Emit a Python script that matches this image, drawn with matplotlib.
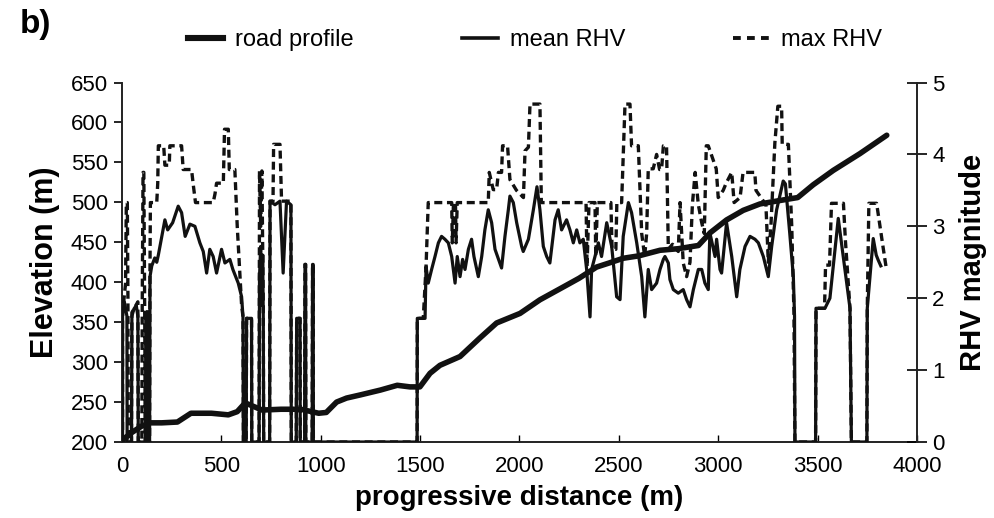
import matplotlib
matplotlib.use("Agg")
import matplotlib.pyplot as plt
from matplotlib.lines import Line2D

plt.rcParams['font.family'] = ['Liberation Sans Narrow', 'Liberation Sans', 'DejaVu Sans']

# road profile: progressive distance (m) -> elevation (m)
road_d = [0, 50, 100, 143, 200, 279, 347, 450, 535, 580, 620, 705, 800, 900, 990,
          1028, 1080, 1130, 1200, 1300, 1385, 1449, 1499, 1550, 1600, 1701, 1800,
          1885, 2003, 2103, 2220, 2300, 2388, 2450, 2522, 2600, 2707, 2800, 2900,
          2960, 3042, 3126, 3210, 3327, 3400, 3478, 3579, 3713, 3848]
road_e = [202, 212, 220, 224, 224, 225, 236, 236, 234, 238, 249, 240, 241, 241, 236,
          237, 250, 255, 259, 265, 271, 269, 269, 286, 296, 307, 330,
          349, 361, 378, 394, 405, 419, 424, 430, 433, 440, 442, 446,
          462, 478, 490, 498, 503, 506, 522, 540, 561, 584]

# mean RHV magnitude
mean_d = [0, 3, 3, 12, 22, 25, 26, 48, 50, 60, 72, 80, 82, 118, 120, 130, 132, 139,
          141, 150, 165, 175, 183, 200, 216, 230, 255, 283, 300, 318, 342, 367, 392,
          409, 426, 442, 459, 476, 501, 518, 543, 558, 585, 602, 609, 611, 625, 627,
          652, 653, 690, 692, 698, 704, 708, 711, 713, 743, 745, 770, 795, 811, 828,
          850, 852, 877, 879, 896, 897, 919, 921, 924, 925, 957, 959, 962, 963,
          1485, 1486, 1525, 1530, 1541, 1558, 1575, 1592, 1608, 1625, 1642, 1659,
          1676, 1687, 1701, 1714, 1726, 1743, 1759, 1771, 1793, 1810, 1826, 1843,
          1860, 1877, 1910, 1927, 1944, 1952, 1969, 1986, 2011, 2019, 2045, 2070,
          2088, 2103, 2120, 2137, 2153, 2179, 2195, 2212, 2237, 2254, 2271, 2288,
          2304, 2321, 2338, 2355, 2363, 2380, 2397, 2413, 2439, 2464, 2489, 2506,
          2522, 2548, 2564, 2590, 2615, 2631, 2648, 2665, 2690, 2707, 2724, 2732,
          2749, 2757, 2774, 2799, 2824, 2841, 2858, 2875, 2900, 2917, 2933, 2950,
          2958, 2984, 2992, 3009, 3017, 3034, 3042, 3068, 3093, 3109, 3135, 3160,
          3185, 3202, 3227, 3252, 3269, 3294, 3327, 3338, 3360, 3378, 3384, 3386,
          3490, 3492, 3537, 3562, 3604, 3663, 3670, 3748, 3750, 3780, 3795, 3805, 3818]
mean_r = [0, 0, 1.75, 1.95, 1.8, 1.75, 0, 0, 1.75, 1.85, 1.9, 1.75, 0, 0, 1.75, 1.8, 0, 0,
          2.3, 2.45, 2.56, 2.5, 2.6, 2.85, 3.09, 2.95, 3.05, 3.28, 3.19, 2.86, 3.03, 3.0, 2.77,
          2.65, 2.35, 2.68, 2.58, 2.35, 2.68, 2.49, 2.54, 2.40, 2.21, 2.02, 1.74, 0, 0, 1.72,
          1.72, 0, 0, 2.3, 2.72, 1.9, 2.6, 1.74, 0, 0, 3.35, 3.3, 3.35, 2.35, 3.35,
          3.3, 0, 0, 1.72, 1.72, 0, 0, 2.47, 2.47, 0, 0, 2.47, 2.47, 0,
          0, 1.72, 1.72, 2.44, 2.21, 2.40, 2.58, 2.77, 2.86, 2.82, 2.77, 2.58,
          2.21, 2.58, 2.30, 2.54, 2.40, 2.68, 2.82, 2.58, 2.30, 2.58, 2.95, 3.23,
          3.05, 2.68, 2.42, 2.86, 3.23, 3.42, 3.33, 3.05, 2.72, 2.65, 2.82, 3.23,
          3.55, 3.23, 2.72, 2.58, 2.49, 3.09, 3.23, 2.95, 3.09, 2.95, 2.77, 2.95,
          2.77, 2.82, 2.40, 1.74, 2.40, 2.58, 2.77, 2.58, 3.05, 2.72, 2.02, 1.98,
          2.86, 3.33, 3.19, 2.77, 2.30, 1.74, 2.40, 2.12, 2.21, 2.40, 2.54, 2.58,
          2.49, 2.26, 2.12, 2.07, 2.12, 1.98, 1.88, 2.12, 2.40, 2.40, 2.21, 2.12,
          2.91, 2.58, 2.82, 2.40, 2.35, 2.82, 3.05, 2.58, 2.02, 2.40, 2.72, 2.86,
          2.82, 2.77, 2.58, 2.30, 2.72, 3.23, 3.63, 3.59, 2.9, 2.30, 1.75, 0,
          0, 1.86, 1.86, 2.0, 3.11, 1.86, 0, 0, 1.86, 2.83, 2.6, 2.53, 2.45]

# max RHV magnitude
max_d = [0, 3, 3, 18, 22, 27, 30, 32, 48, 50, 80, 82, 100, 102, 106, 110, 114, 118,
         120, 130, 132, 139, 141, 143, 175, 180, 183, 210, 216, 238, 241, 300, 308,
         350, 360, 370, 459, 468, 476, 510, 516, 535, 540, 568, 580, 602, 609, 611,
         625, 627, 652, 653, 690, 692, 698, 704, 711, 713, 743, 745, 760, 763, 795,
         803, 850, 852, 877, 879, 896, 897, 919, 921, 924, 925, 957, 959, 962, 963,
         1485, 1486, 1516, 1530, 1541, 1659, 1662, 1668, 1678, 1681, 1687, 1843,
         1848, 1868, 1885, 1894, 1910, 1915, 1940, 1952, 1985, 2020, 2028, 2045,
         2053, 2103, 2110, 2335, 2340, 2350, 2380, 2384, 2392, 2460, 2466, 2485,
         2490, 2514, 2531, 2556, 2564, 2598, 2606, 2615, 2630, 2640, 2648, 2673,
         2690, 2705, 2715, 2724, 2740, 2749, 2770, 2799, 2808, 2824, 2841, 2858,
         2870, 2884, 2900, 2917, 2930, 2940, 2950, 2990, 3000, 3025, 3040, 3068,
         3080, 3110, 3125, 3184, 3190, 3240, 3252, 3265, 3285, 3300, 3319, 3322,
         3353, 3370, 3381, 3386, 3490, 3492, 3535, 3540, 3560, 3570, 3630, 3640,
         3663, 3670, 3748, 3750, 3758, 3797, 3814, 3830, 3847]
max_r = [0, 0, 1.8, 2.2, 3.33, 3.33, 2.0, 0, 0, 1.8, 1.95, 0, 0, 1.9, 3.75, 3.75, 2.0, 0,
         1.8, 1.85, 0, 0, 2.4, 3.33, 3.33, 3.6, 4.12, 4.12, 3.85, 3.85, 4.12, 4.12, 3.79,
         3.79, 3.55, 3.33, 3.33, 3.45, 3.6, 3.6, 4.35, 4.35, 3.79, 3.79, 3.0, 1.9, 1.74, 0,
         0, 1.72, 1.72, 0, 0, 3.77, 3.0, 3.77, 1.9, 0, 0, 3.35, 3.35, 4.14, 4.14,
         3.35, 3.35, 0, 0, 1.72, 1.72, 0, 0, 2.47, 2.47, 0, 0, 2.47, 2.47, 0,
         0, 1.72, 1.72, 2.44, 3.33, 3.33, 2.77, 3.33, 3.33, 2.77, 3.33, 3.33,
         3.75, 3.51, 3.51, 3.75, 3.75, 4.12, 4.12, 3.65, 3.5, 3.4, 4.05, 4.1,
         4.7, 4.7, 3.33, 3.33, 2.44, 3.33, 3.33, 2.58, 3.33, 3.33, 2.68, 2.68,
         3.33, 3.33, 4.7, 4.7, 4.12, 4.12, 3.56, 2.9, 2.58, 2.9, 3.8, 3.8,
         4.0, 3.79, 3.79, 4.12, 4.12, 2.68, 2.75, 2.65, 3.33, 2.49, 2.3, 2.5,
         3.3, 3.75, 3.3, 3.05, 2.9, 4.12, 4.12, 3.8, 3.4, 3.5, 3.6, 3.75,
         3.33, 3.4, 3.75, 3.75, 3.5, 3.3, 2.5, 3.0, 4.16, 4.67, 4.67, 4.14,
         4.14, 3.0, 1.8, 0, 0, 1.86, 1.86, 2.46, 2.46, 3.32, 3.32, 2.8,
         1.86, 0, 0, 1.86, 3.32, 3.32, 3.0, 2.7, 2.39]

x_ticks = [0, 500, 1000, 1500, 2000, 2500, 3000, 3500, 4000]
elev_ticks = [200, 250, 300, 350, 400, 450, 500, 550, 600, 650]
rhv_ticks = [0, 1, 2, 3, 4, 5]

ink = "#111111"
fig = plt.figure(figsize=(9.94, 5.18), dpi=100)
ax = fig.add_axes([0.1227, 0.1467, 0.7998, 0.694])
ax2 = ax.twinx()

ax.plot(road_d, road_e, color=ink, lw=4.0, solid_capstyle="round",
        solid_joinstyle="round", zorder=3)
ax2.plot(mean_d, mean_r, color=ink, lw=2.3, solid_joinstyle="round", zorder=2)
ax2.plot(max_d, max_r, color=ink, lw=2.4, dashes=(2.4, 1.4), zorder=2)

ax.set_xlim(0, 4000)
ax.set_ylim(200, 650)
ax2.set_ylim(0, 5)
ax.set_xticks(x_ticks)
ax.set_yticks(elev_ticks)
ax2.set_yticks(rhv_ticks)

for a in (ax, ax2):
    a.spines["top"].set_visible(False)
    for s in a.spines.values():
        s.set_linewidth(1.4)
        s.set_color("#222222")
ax.spines["right"].set_visible(False)
ax2.spines["left"].set_visible(False)
ax2.spines["bottom"].set_visible(False)

ax.tick_params(axis="y", direction="out", length=6, width=1.2, labelsize=16, pad=4)
ax.tick_params(axis="x", direction="in", length=5, width=1.0, labelsize=16, pad=10)
ax2.tick_params(axis="y", direction="inout", length=14, width=1.2, labelsize=16, pad=4)

ax.set_xlabel("progressive distance (m)", fontsize=20, fontweight="bold", labelpad=6)
ax.set_ylabel("Elevation (m)", fontsize=22, fontweight="bold", labelpad=8)
ax2.set_ylabel("RHV magnitude", fontsize=21, fontweight="bold", labelpad=10)

fig.text(0.02, 0.952, "b)", fontsize=24, fontweight="bold", va="center")

handles = [Line2D([], [], color=ink, lw=4.4),
           Line2D([], [], color=ink, lw=2.6),
           Line2D([], [], color=ink, lw=2.8, dashes=(2.0, 1.6))]
fig.legend(handles, ["road profile", "mean RHV", "max RHV"], ncol=3,
           loc="center", bbox_to_anchor=(0.538, 0.922), frameon=False,
           fontsize=17, handlelength=1.5, columnspacing=4.6, handletextpad=0.5)

fig.savefig("out.png", dpi=100)
